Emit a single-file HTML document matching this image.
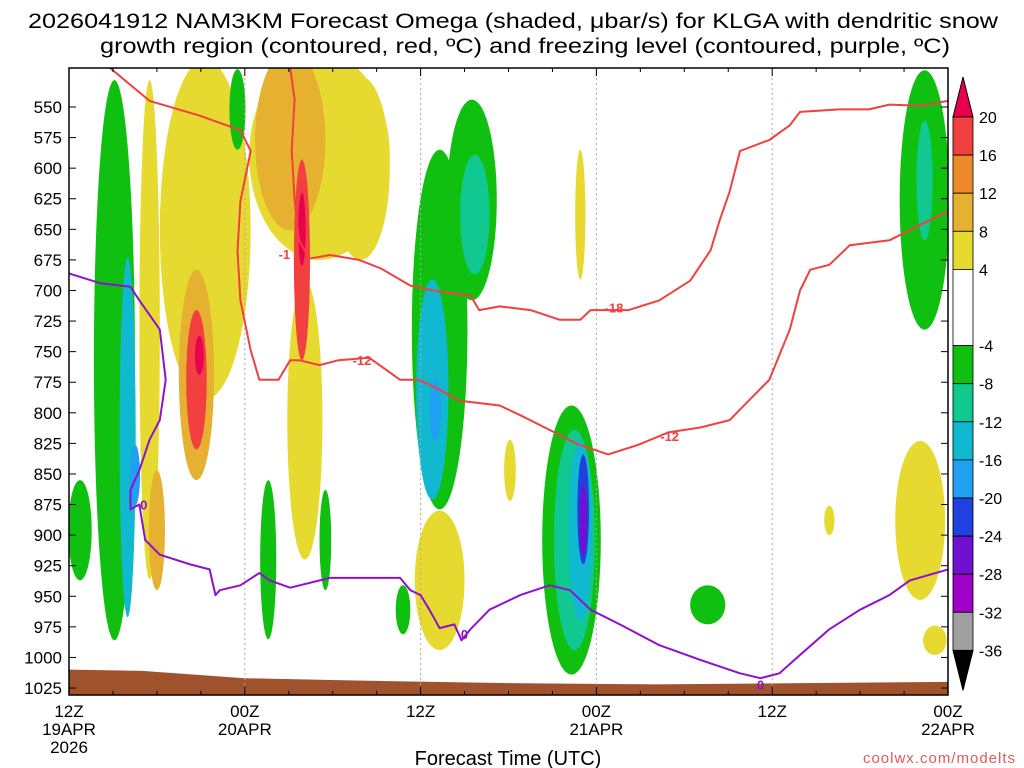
<!DOCTYPE html>
<html><head><meta charset="utf-8"><style>
html,body{margin:0;padding:0;background:#fff;}
svg{display:block;font-family:"Liberation Sans","DejaVu Sans",sans-serif;}
</style></head><body>
<svg id="chart" width="1024" height="768" viewBox="0 0 1024 768" xmlns="http://www.w3.org/2000/svg">
<text x="513" y="28" text-anchor="middle" font-size="21" textLength="970" lengthAdjust="spacingAndGlyphs">2026041912 NAM3KM Forecast Omega (shaded, μbar/s) for KLGA with dendritic snow</text>
<text x="525" y="53" text-anchor="middle" font-size="21" textLength="850" lengthAdjust="spacingAndGlyphs">growth region (contoured, red, ºC) and freezing level (contoured, purple, ºC)</text>
<defs><clipPath id="plotclip"><rect x="69" y="68" width="879" height="627"/></clipPath></defs>
<g id="plot" clip-path="url(#plotclip)"></g>
<g id="axes"></g>
<g id="cbar"></g>
<text x="508" y="765" text-anchor="middle" font-size="20">Forecast Time (UTC)</text>
<text x="1016" y="763" text-anchor="end" font-size="15" fill="#e05a5a" letter-spacing="1">coolwx.com/modelts</text>
</svg>
<script>
// ---- data ----
const xTickHours = [0, 12, 24, 36, 48, 60];
const xTickLine1 = ["12Z", "00Z", "12Z", "00Z", "12Z", "00Z"];
const xTickLine2 = ["19APR", "20APR", "", "21APR", "", "22APR"];
const yTicks = [550,575,600,625,650,675,700,725,750,775,800,825,850,875,900,925,950,975,1000,1025];
const cbarLevels = [20,16,12,8,4,-4,-8,-12,-16,-20,-24,-28,-32,-36];
const cbarColors = ["#e8004e","#f24040","#ec8a2a","#e6b030","#e6da30","#ffffff","#10c010","#10c890","#10b8d0","#20a0f0","#2040e0","#7010d0","#a000c8","#a0a0a0","#000000"];
// shaded omega blobs: hour, pressure, half-width (h), half-height (hPa), value
const blobHour = [3.1,4.0,4.5,0.75,9.3,5.5,6.0,8.7,8.7,8.9,17.1,19.9,15.1,15.9,16.1,25.3,24.8,25.0,27.5,27.7,34.3,34.5,34.9,35.1,35.1,34.9,25.3,43.6,58.1,59.1,58.4,58.4,13.6,17.5,22.8,30.1,51.9,11.5,15.9];
const blobPres = [757,820,851,896,650,732,896,769,773,753,590,600,577,675,806,732,781,798,626,638,904,904,896,879,888,638,937,957,888,986,626,610,920,904,961,847,888,552,650];
const blobDh   = [1.4,0.55,0.35,0.8,3.1,0.7,0.55,1.2,0.7,0.3,4.8,2.0,2.4,0.55,1.2,1.9,1.1,0.4,1.7,1.0,2.0,1.4,0.8,0.4,0.25,0.35,1.7,1.2,1.7,0.8,1.7,0.55,0.55,0.4,0.5,0.4,0.35,0.55,0.25];
const blobDp   = [229,147,25,41,139,204,49,86,57,16,85,75,74,82,114,147,90,25,82,49,110,90,74,45,29,53,57,16,65,12,106,49,65,41,20,25,12,33,30];
const blobVal  = [-6,-14,-18,-6,6,6,10,10,18,22,6,6,10,16,6,-6,-14,-18,-6,-10,-6,-10,-14,-22,-26,6,6,-6,6,6,-6,-10,-6,-6,-6,6,6,-6,22];
// surface
const sfcHour = [0,5,12,20,30,40,50,60];
const sfcPres = [1010,1011,1017,1019,1021,1022,1021,1020];
// freezing level (0C)
const frzHour = [0,2.1,4.2,4.8,5.5,6.2,6.6,6.2,5.5,4.8,4.2,4.2,4.8,5.2,6.2,8.3,9.6,10,10.3,11.7,13,13.7,15.1,17.8,22.6,23.3,24,24.6,25.3,26.3,26.8,27.4,28.7,30.8,32.8,34.2,35.6,37.6,40.3,43.1,45.8,47.2,48.5,49.9,51.9,54,56,57.4,60];
const frzPres = [686,694,697,708,720,732,773,806,822,847,863,879,875,904,916,924,928,949,945,941,931,937,943,935,935,945,949,961,976,973,986,977,961,949,941,945,961,973,990,1002,1013,1017,1013,998,977,961,949,937,928];
// -12 C line
const m12Hour = [2.8,5.5,8.9,11.7,12.4,11.7,11.5,11.7,12.4,13,14.3,15.1,15.7,17.1,18.4,20.5,22.6,23.9,25.3,26.6,29.4,30.8,32.8,34.8,36.8,38.9,40.9,43.1,45.1,46.4,47.8,49.2,49.9,50.6,51.9,53.3,56,58,60];
const m12Pres = [518,545,557,569,586,627,668,708,749,773,773,757,757,761,757,755,773,773,781,790,794,802,814,826,834,826,816,812,806,790,773,732,700,683,679,663,659,647,635];
// -18 C line
const m18Hour = [15.1,15.4,15.2,15.4,15.7,16.4,17.8,19.8,21.3,23.3,25.3,27.4,28.0,29.4,31.5,33.5,34.9,35.6,38.2,40.3,42.4,43.8,44.4,45.1,45.8,47.8,49.2,49.9,52.6,54.6,56.0,58.1,60];
const m18Pres = [518,544,585,626,659,674,671,675,682,696,701,704,716,713,716,724,724,716,716,708,692,667,643,619,586,577,565,554,552,552,548,549,545];
// contour labels
const labText = ["-12","-18","-12","-1","0","0","0"];
const labHour = [20.0,37.2,41.0,14.7,5.1,27.0,47.2];
const labPres = [757,714,819,670,875,981,1022];
const labColor = ["#f04040","#f04040","#f04040","#f04040","#9010d0","#9010d0","#9010d0"];

// ---- scales ----
const X0=69, X1=948, Y0=68, Y1=695;
const xs = h => X0 + h*(X1-X0)/60;
const ys = p => 107 + (p-550)*30.58/25;
const NS="http://www.w3.org/2000/svg";
function mk(tag, parent, attrs){const e=document.createElementNS(NS,tag);for(const k in attrs)e.setAttribute(k,attrs[k]);parent.appendChild(e);return e;}
function colorFor(v){
  if(v>=20) return cbarColors[0];
  for(let i=0;i<cbarLevels.length-1;i++){ if(v<cbarLevels[i] && v>=cbarLevels[i+1]) return cbarColors[i+1]; }
  return cbarColors[cbarColors.length-1];
}
const plotG=document.getElementById('plot');
const axesG=document.getElementById('axes');
const cbG=document.getElementById('cbar');

const order=blobVal.map((v,i)=>i).sort((a,b)=>Math.abs(blobVal[a])-Math.abs(blobVal[b]));
order.forEach(i=>{
  const e=mk('ellipse',plotG,{cx:xs(blobHour[i]),cy:ys(blobPres[i]),rx:blobDh[i]*(X1-X0)/60,ry:blobDp[i]*30.58/25,fill:colorFor(blobVal[i])});
  
  
});

let sd='M'+xs(0)+','+Y1;
sfcHour.forEach((h,i)=>{sd+=' L'+xs(h)+','+ys(sfcPres[i]);});
sd+=' L'+xs(60)+','+Y1+' Z';
const sf=mk('path',plotG,{d:sd,fill:'#a0522d'});



xTickHours.slice(1,5).forEach(h=>{
  const g=mk('line',plotG,{x1:xs(h),x2:xs(h),y1:Y0,y2:Y1,stroke:'#aaa','stroke-dasharray':'2,3','stroke-width':1});
  
  
});

function drawLine(hs,ps,color,name){
  const d=hs.map((h,i)=>(i?'L':'M')+xs(h).toFixed(1)+','+ys(ps[i]).toFixed(1)).join(' ');
  const e=mk('path',plotG,{d:d,fill:'none',stroke:color,'stroke-width':2,'stroke-linejoin':'round'});
  
  
}
drawLine(m12Hour,m12Pres,'#f04040','contour-minus12');
drawLine(m18Hour,m18Pres,'#f04040','contour-minus18');
drawLine(frzHour,frzPres,'#9010d0','freezing-level-line');
labText.forEach((t,i)=>{
  const e=mk('text',plotG,{x:xs(labHour[i]),y:ys(labPres[i])+5,'text-anchor':'middle','font-size':13,'font-weight':'bold',fill:labColor[i]});
  e.textContent=t;
  
  
});

const fr=mk('rect',axesG,{x:X0,y:Y0,width:X1-X0,height:Y1-Y0,fill:'none',stroke:'#000','stroke-width':1.5});


yTicks.forEach(p=>{
  const y=ys(p);
  mk('line',axesG,{x1:X0,x2:X0+7,y1:y,y2:y,stroke:'#000'});
  mk('line',axesG,{x1:X1-7,x2:X1,y1:y,y2:y,stroke:'#000'});
  const t=mk('text',axesG,{x:62,y:y+6,'text-anchor':'end','font-size':17});
  t.textContent=p;
  
  
});
for(let h=0;h<=60;h+=3){
  const len=(h%12===0)?8:4;
  mk('line',axesG,{x1:xs(h),x2:xs(h),y1:Y1-len,y2:Y1,stroke:'#000'});
  mk('line',axesG,{x1:xs(h),x2:xs(h),y1:Y0,y2:Y0+len,stroke:'#000'});
}
xTickHours.forEach((h,i)=>{
  const t1=mk('text',axesG,{x:xs(h),y:717,'text-anchor':'middle','font-size':17});
  t1.textContent=xTickLine1[i];
  
  
  if(xTickLine2[i]){
    const t2=mk('text',axesG,{x:xs(h),y:735,'text-anchor':'middle','font-size':17});
    t2.textContent=xTickLine2[i];
    
    
  }
});
const yr=mk('text',axesG,{x:xs(0),y:753,'text-anchor':'middle','font-size':17});
yr.textContent='2026';



const CBX=953, CBW=20, cby=v=>117+(20-v)*38.1/4;
const cbTop=mk('polygon',cbG,{points:`${CBX},${cby(20)} ${CBX+CBW/2},${cby(20)-40} ${CBX+CBW},${cby(20)}`,fill:cbarColors[0],stroke:'#000'});


for(let i=0;i<cbarLevels.length-1;i++){
  const r=mk('rect',cbG,{x:CBX,y:cby(cbarLevels[i]),width:CBW,height:cby(cbarLevels[i+1])-cby(cbarLevels[i]),fill:cbarColors[i+1],stroke:'#000','stroke-width':0.8});
  
  
}
const cbBot=mk('polygon',cbG,{points:`${CBX},${cby(-36)} ${CBX+CBW/2},${cby(-36)+40} ${CBX+CBW},${cby(-36)}`,fill:'#000',stroke:'#000'});


cbarLevels.forEach(v=>{
  const t=mk('text',cbG,{x:979,y:cby(v)+6,'font-size':16});
  t.textContent=v;
  
  
});
</script>
</body></html>
